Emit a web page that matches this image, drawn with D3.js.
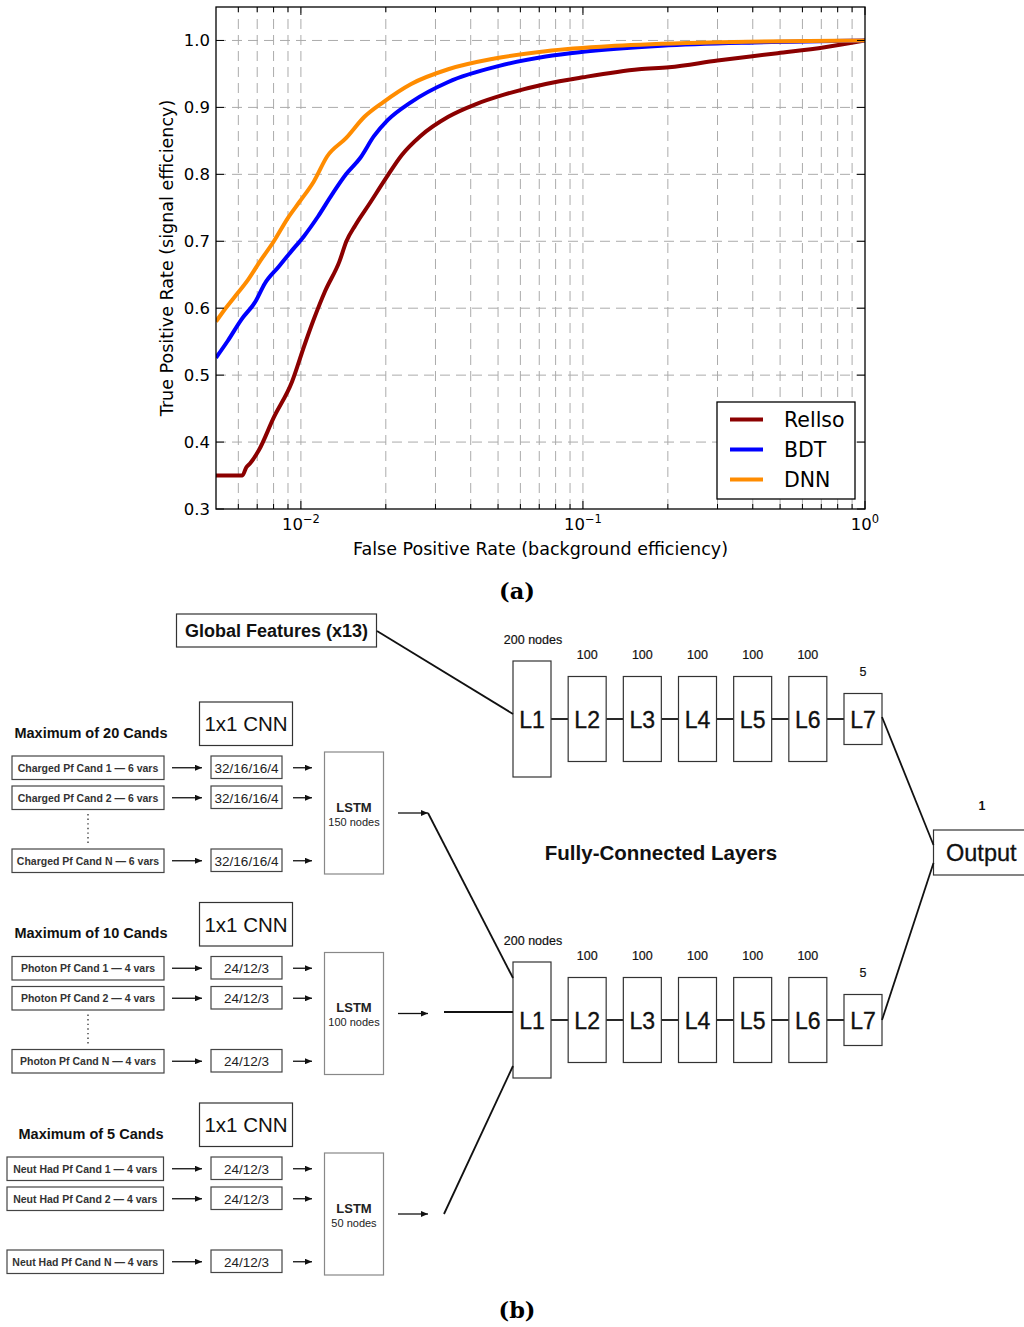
<!DOCTYPE html>
<html>
<head>
<meta charset="utf-8">
<script src="https://cdn.jsdelivr.net/npm/d3@7"></script>
<style>
  body { margin: 0; background: #fff; }
  svg { display: block; }
</style>
</head>
<body>
<svg id="fig" width="1024" height="1327"></svg>
<script>
// ---------------- ROC curve data (false positive rate, true positive rate) ----------------
const fprRellso = [0.005, 0.0062, 0.0064, 0.0066, 0.0071, 0.0080, 0.0093, 0.0103, 0.0111, 0.0122, 0.0137, 0.0145, 0.0156, 0.0175, 0.0200, 0.0228, 0.0265, 0.0333, 0.0418, 0.0525, 0.0738, 0.100, 0.158, 0.202, 0.300, 0.490, 0.720, 1.0];
const tprRellso = [0.350, 0.350, 0.362, 0.368, 0.388, 0.436, 0.490, 0.545, 0.583, 0.626, 0.670, 0.700, 0.724, 0.756, 0.794, 0.829, 0.857, 0.886, 0.905, 0.919, 0.935, 0.945, 0.957, 0.960, 0.970, 0.981, 0.990, 1.0];

const fprBDT = [0.005, 0.0055, 0.00615, 0.0069, 0.00745, 0.00834, 0.00916, 0.01027, 0.0115, 0.0129, 0.01445, 0.0162, 0.01815, 0.0203, 0.0246, 0.0333, 0.0505, 0.0738, 0.100, 0.190, 0.407, 1.0];
const tprBDT = [0.526, 0.551, 0.583, 0.610, 0.637, 0.662, 0.683, 0.708, 0.737, 0.770, 0.800, 0.824, 0.857, 0.881, 0.908, 0.938, 0.962, 0.976, 0.983, 0.992, 0.997, 1.0];

const fprDNN = [0.005, 0.00528, 0.0058, 0.00651, 0.00716, 0.00802, 0.0090, 0.00989, 0.0111, 0.0124, 0.01445, 0.0168, 0.0196, 0.0246, 0.0333, 0.0486, 0.0738, 0.130, 0.279, 1.0];
const tprDNN = [0.580, 0.594, 0.616, 0.643, 0.670, 0.700, 0.735, 0.759, 0.789, 0.827, 0.854, 0.886, 0.908, 0.935, 0.957, 0.973, 0.984, 0.992, 0.997, 1.0];

const seriesNames = ["Rellso", "BDT", "DNN"];
const seriesColors = ["#8b0000", "#0000ff", "#ff8c00"];
const yTickValues = [0.3, 0.4, 0.5, 0.6, 0.7, 0.8, 0.9, 1.0];
const xTickValues = [0.01, 0.1, 1];
const xTickExponents = ["\u22122", "\u22121", "0"];
const xAxisTitle = "False Positive Rate (background efficiency)";
const yAxisTitle = "True Positive Rate (signal efficiency)";

// ---------------- network diagram labels ----------------
const fcLayers = ["L1", "L2", "L3", "L4", "L5", "L6", "L7"];
const fcNodes = [200, 100, 100, 100, 100, 100, 5];
const fcNodeLabels = ["200 nodes", "100", "100", "100", "100", "100", "5"];
const fcTitle = "Fully-Connected Layers";
const globalFeaturesLabel = "Global Features (x13)";
const outputLabel = "Output";
const outputNodes = "1";
const groupTitles = ["Maximum of 20 Cands", "Maximum of 10 Cands", "Maximum of 5 Cands"];
const candTypes = ["Charged Pf Cand", "Photon Pf Cand", "Neut Had Pf Cand"];
const candVars = [6, 4, 4];
const candIndices = ["1", "2", "N"];
const cnnLabel = "1x1 CNN";
const cnnSizes = ["32/16/16/4", "24/12/3", "24/12/3"];
const lstmNodes = [150, 100, 50];
const captions = ["(a)", "(b)"];

const svg = d3.select("#fig");
const chartFont = "'DejaVu Sans', sans-serif";
const diagFont = "'Liberation Sans', Arial, Helvetica, sans-serif";
const capFont = "'DejaVu Serif', serif";

// ======================= (a) ROC curves =======================
const plot = { left: 216, right: 865, top: 7, bottom: 509 };
const x = d3.scaleLog().domain([0.005, 1]).range([plot.left, plot.right]);
const y = d3.scaleLinear().domain([0.3, 1.05]).range([plot.bottom, plot.top]);

const roc = svg.append("g");
roc.append("defs").append("clipPath").attr("id", "plotClip")
  .append("rect").attr("x", plot.left).attr("y", plot.top)
  .attr("width", plot.right - plot.left).attr("height", plot.bottom - plot.top);

const allXTicks = x.ticks().filter(v => v > 0.005 * 1.0001 && v < 0.9999);
const isMajor = v => Math.abs(Math.log10(v) - Math.round(Math.log10(v))) < 1e-6;

// grid
const grid = roc.append("g").attr("stroke", "#ababab").attr("stroke-width", 1)
  .attr("stroke-dasharray", "10,6").attr("fill", "none");
grid.selectAll("line.v").data(allXTicks).join("line").attr("class", "v")
  .attr("x1", d => x(d)).attr("x2", d => x(d)).attr("y1", plot.bottom).attr("y2", plot.top);
grid.selectAll("line.h").data(yTickValues.filter(v => v > 0.3)).join("line").attr("class", "h")
  .attr("x1", plot.left).attr("x2", plot.right).attr("y1", d => y(d)).attr("y2", d => y(d));

// curves
const line = d3.line().x(d => x(d[0])).y(d => y(d[1])).curve(d3.curveMonotoneX);
const seriesData = [
  d3.zip(fprRellso, tprRellso),
  d3.zip(fprBDT, tprBDT),
  d3.zip(fprDNN, tprDNN)
];
roc.append("g").attr("clip-path", "url(#plotClip)")
  .selectAll("path").data(seriesData).join("path")
  .attr("d", line).attr("fill", "none")
  .attr("stroke", (d, i) => seriesColors[i]).attr("stroke-width", 4)
  .attr("stroke-linejoin", "round");

// ticks (inside, on all four sides)
const tk = roc.append("g").attr("stroke", "#000").attr("stroke-width", 1);
allXTicks.concat([1]).forEach(v => {
  const len = isMajor(v) ? 8 : 5;
  tk.append("line").attr("x1", x(v)).attr("x2", x(v)).attr("y1", plot.bottom).attr("y2", plot.bottom - len);
  tk.append("line").attr("x1", x(v)).attr("x2", x(v)).attr("y1", plot.top).attr("y2", plot.top + len);
});
yTickValues.forEach(v => {
  tk.append("line").attr("x1", plot.left).attr("x2", plot.left + 8).attr("y1", y(v)).attr("y2", y(v));
  tk.append("line").attr("x1", plot.right).attr("x2", plot.right - 8).attr("y1", y(v)).attr("y2", y(v));
});

// frame
roc.append("rect").attr("x", plot.left).attr("y", plot.top)
  .attr("width", plot.right - plot.left).attr("height", plot.bottom - plot.top)
  .attr("fill", "none").attr("stroke", "#000").attr("stroke-width", 1.3);

// y tick labels
roc.append("g").selectAll("text").data(yTickValues).join("text")
  .attr("x", plot.left - 6).attr("y", d => y(d)).attr("dy", "0.35em")
  .attr("text-anchor", "end").attr("font-family", chartFont).attr("font-size", 16.5)
  .attr("fill", "#000").text(d3.format(".1f"));

// x tick labels with exponents
const xl = roc.append("g").selectAll("text").data(xTickValues).join("text")
  .attr("x", d => x(d)).attr("y", plot.bottom + 21)
  .attr("text-anchor", "middle").attr("font-family", chartFont).attr("font-size", 16.5).attr("fill", "#000");
xl.append("tspan").text("10");
xl.append("tspan").attr("dy", -7).attr("font-size", 11.5).text((d, i) => xTickExponents[i]);

// axis titles
roc.append("text").attr("x", (plot.left + plot.right) / 2).attr("y", 549).attr("dy", "0.35em")
  .attr("text-anchor", "middle").attr("font-family", chartFont).attr("font-size", 17.5).text(xAxisTitle);
roc.append("text").attr("transform", `translate(167,${(plot.top + plot.bottom) / 2}) rotate(-90)`)
  .attr("dy", "0.35em").attr("text-anchor", "middle").attr("font-family", chartFont)
  .attr("font-size", 17.5).text(yAxisTitle);

// legend
const lg = roc.append("g");
lg.append("rect").attr("x", 717).attr("y", 402).attr("width", 138).attr("height", 97)
  .attr("fill", "#fff").attr("stroke", "#000").attr("stroke-width", 1.3);
const legendY = d3.scaleLinear().domain([0, 2]).range([419.5, 479.5]);
seriesNames.forEach((n, i) => {
  lg.append("line").attr("x1", 730).attr("x2", 763).attr("y1", legendY(i)).attr("y2", legendY(i))
    .attr("stroke", seriesColors[i]).attr("stroke-width", 4);
  lg.append("text").attr("x", 784).attr("y", legendY(i)).attr("dy", "0.36em")
    .attr("font-family", chartFont).attr("font-size", 20.5).text(n);
});

// captions
const capY = d3.scaleOrdinal().domain(captions).range([591, 1310]);
svg.selectAll("text.cap").data(captions).join("text").attr("class", "cap")
  .attr("x", 517).attr("y", d => capY(d)).attr("dy", "0.35em").attr("text-anchor", "middle")
  .attr("font-family", capFont).attr("font-weight", "bold").attr("font-size", 22.5).text(d => d);

// ======================= (b) network diagram =======================
const dg = svg.append("g").attr("font-family", diagFont).attr("fill", "#111");
const defs = svg.append("defs");
defs.append("marker").attr("id", "arrow").attr("viewBox", "0 0 7 6")
  .attr("refX", 7).attr("refY", 3).attr("markerWidth", 7).attr("markerHeight", 6)
  .attr("markerUnits", "userSpaceOnUse").attr("orient", "auto")
  .append("path").attr("d", "M0,0 L7,3 L0,6 Z").attr("fill", "#111");

const arrow = (x1, y1, x2, y2) => dg.append("line")
  .attr("x1", x1).attr("y1", y1).attr("x2", x2).attr("y2", y2)
  .attr("stroke", "#111").attr("stroke-width", 1.3).attr("marker-end", "url(#arrow)");
const link = (x1, y1, x2, y2) => dg.append("line")
  .attr("x1", x1).attr("y1", y1).attr("x2", x2).attr("y2", y2)
  .attr("stroke", "#111").attr("stroke-width", 1.8);
const box = (x0, y0, w, h, stroke) => dg.append("rect")
  .attr("x", x0).attr("y", y0).attr("width", w).attr("height", h)
  .attr("fill", "#fff").attr("stroke", stroke || "#333").attr("stroke-width", 1.2);

// --- fully-connected rows ---
const fcX = d3.scaleLinear().domain([0, fcLayers.length - 1]).range([513, 844]);
const fcW = 38;
const fcH = d3.scaleLinear().domain([5, 100, 200]).range([51, 85, 116]);
const fcRowY = d3.scaleLinear().domain([0, 1]).range([719, 1020]);

[0, 1].forEach(r => {
  const cy = fcRowY(r);
  // links between consecutive layers
  fcLayers.slice(1).forEach((l, i) => link(fcX(i) + fcW, cy, fcX(i + 1), cy));
  fcLayers.forEach((l, i) => {
    const h = fcH(fcNodes[i]);
    box(fcX(i), cy - h / 2, fcW, h);
    dg.append("text").attr("x", fcX(i) + fcW / 2).attr("y", cy + 1).attr("dy", "0.36em")
      .attr("text-anchor", "middle").attr("font-size", 23).attr("stroke", "#111")
      .attr("stroke-width", 0.35).text(l);
    dg.append("text").attr("x", fcX(i) + fcW / 2 + (i === 0 ? 1 : 0)).attr("y", cy - h / 2 - 22)
      .attr("dy", "0.36em").attr("text-anchor", "middle").attr("font-size", 12.5)
      .attr("stroke", "#111").attr("stroke-width", 0.2).text(fcNodeLabels[i]);
  });
});

dg.append("text").attr("x", 661).attr("y", 853).attr("dy", "0.36em").attr("text-anchor", "middle")
  .attr("font-size", 20.5).attr("font-weight", "bold").text(fcTitle);

// global features feeding the upper row
box(176.5, 614, 200, 33);
dg.append("text").attr("x", 276.5).attr("y", 631).attr("dy", "0.36em").attr("text-anchor", "middle")
  .attr("font-size", 18).attr("font-weight", "bold").text(globalFeaturesLabel);
link(377, 631, fcX(0), fcRowY(0) - 5);

// output node
const outX = 933.5;
box(outX, 830, 110, 45);
dg.append("text").attr("x", 946).attr("y", 853).attr("dy", "0.36em")
  .attr("font-size", 23.5).attr("stroke", "#111").attr("stroke-width", 0.3).text(outputLabel);
dg.append("text").attr("x", 982).attr("y", 805).attr("dy", "0.36em").attr("text-anchor", "middle")
  .attr("font-size", 12.5).attr("font-weight", "bold").text(outputNodes);
link(fcX(6) + fcW, fcRowY(0) - 2, outX, 845);
link(fcX(6) + fcW, fcRowY(1), outX, 863);

// --- candidate groups ---
const groupY = d3.scaleLinear().domain([0, 2]).range([752, 1153]);
const candRowTop = d3.scaleOrdinal().domain(candIndices).range([4, 34, 97]);
const candBoxX = [[12, 164], [12, 164], [7, 163.5]];
const rowH = 23.5;
const hasDots = [true, true, false];

groupTitles.forEach((title, g) => {
  const g0 = groupY(g);
  dg.append("text").attr("x", 91).attr("y", g0 - 19.5).attr("dy", "0.36em").attr("text-anchor", "middle")
    .attr("font-size", 14.5).attr("font-weight", "bold").text(title);

  box(199.5, g0 - 50, 93, 43.5);
  dg.append("text").attr("x", 246).attr("y", g0 - 28).attr("dy", "0.36em").attr("text-anchor", "middle")
    .attr("font-size", 20.5).text(cnnLabel);

  candIndices.forEach(idx => {
    const top = g0 + candRowTop(idx);
    const cy = top + rowH / 2;
    const [bx0, bx1] = candBoxX[g];
    box(bx0, top, bx1 - bx0, rowH, "#444");
    dg.append("text").attr("x", (bx0 + bx1) / 2).attr("y", cy).attr("dy", "0.36em")
      .attr("text-anchor", "middle").attr("font-size", 10.5).attr("font-weight", "bold")
      .attr("fill", "#333").text(`${candTypes[g]} ${idx} \u2014 ${candVars[g]} vars`);
    arrow(172, cy, 202, cy);
    box(211, top, 71, rowH - 1, "#444");
    dg.append("text").attr("x", 246.5).attr("y", cy).attr("dy", "0.36em").attr("text-anchor", "middle")
      .attr("font-size", 13.5).attr("fill", "#222").text(cnnSizes[g]);
    arrow(293, cy, 312, cy);
  });

  if (hasDots[g]) {
    dg.append("line").attr("x1", 88).attr("x2", 88).attr("y1", g0 + 62).attr("y2", g0 + 91)
      .attr("stroke", "#555").attr("stroke-width", 1.6).attr("stroke-dasharray", "1.4,3.2");
  }

  box(324.5, g0, 59, 122, "#888");
  dg.append("text").attr("x", 354).attr("y", g0 + 55).attr("dy", "0.36em").attr("text-anchor", "middle")
    .attr("font-size", 13).attr("font-weight", "bold").attr("fill", "#222").text("LSTM");
  dg.append("text").attr("x", 354).attr("y", g0 + 70).attr("dy", "0.36em").attr("text-anchor", "middle")
    .attr("font-size", 11).attr("fill", "#222").text(`${lstmNodes[g]} nodes`);

  arrow(398, g0 + 61, 428, g0 + 61);
});

// LSTM outputs into the lower fully-connected row
const l1Top = fcRowY(1) - fcH(fcNodes[0]) / 2;
const l1Bot = fcRowY(1) + fcH(fcNodes[0]) / 2;
link(428, groupY(0) + 61, fcX(0), l1Top + 16);
link(444, fcRowY(1) - 8, fcX(0), fcRowY(1) - 8);
link(444, groupY(2) + 61, fcX(0), l1Bot - 12);
</script>
</body>
</html>
